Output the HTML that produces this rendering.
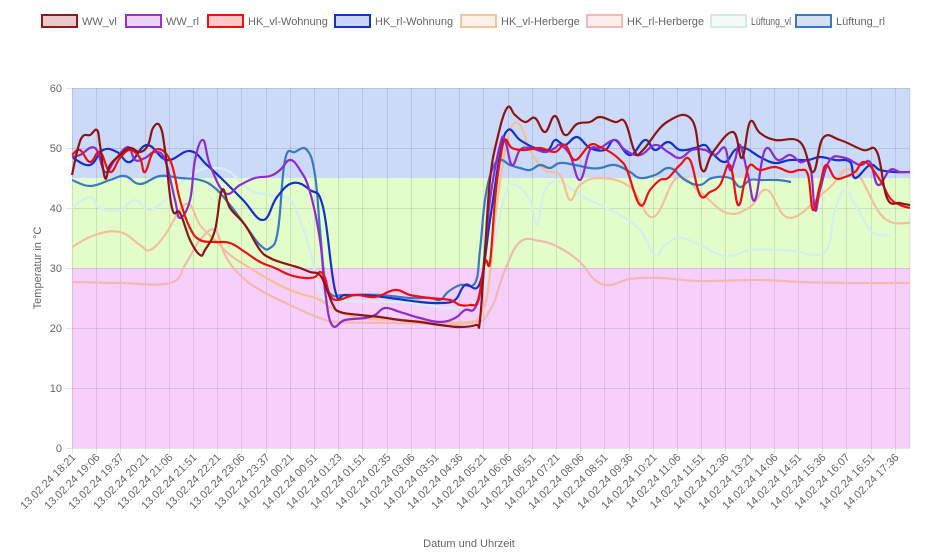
<!DOCTYPE html>
<html><head><meta charset="utf-8"><style>
body{margin:0;background:#fff;width:940px;height:558px;overflow:hidden;font-family:"Liberation Sans",Arial,sans-serif}
svg{position:absolute;left:0;top:0}
</style></head><body>
<svg id="s" width="940" height="558" xmlns="http://www.w3.org/2000/svg" font-family="Liberation Sans, Arial, sans-serif">
<rect x="72" y="88" width="838" height="90" fill="#cbdaf8"/>
<rect x="72" y="178" width="838" height="90" fill="#e2fdc9"/>
<rect x="72" y="268" width="838" height="180" fill="#f6d0fa"/>
<g id="grid" stroke="rgba(0,0,0,0.1)" stroke-width="1"></g>
<g id="lines" fill="none" stroke-width="2.2"></g>
<g id="yl" font-size="11" fill="#666" text-anchor="end"></g>
<g id="xl" font-size="11" fill="#666" text-anchor="end"></g>
<text x="0" y="0" font-size="11" fill="#666" text-anchor="middle" transform="translate(41,268) rotate(-90)">Temperatur in °C</text>
<text x="469" y="547" font-size="11" fill="#666" text-anchor="middle">Datum und Uhrzeit</text>
<g id="leg" font-size="11" fill="#666"></g>
</svg>
<script>
var NS="http://www.w3.org/2000/svg";
function el(p,t,a,txt){var e=document.createElementNS(NS,t);for(var k in a)e.setAttribute(k,a[k]);if(txt)e.textContent=txt;document.getElementById(p).appendChild(e);}
for(var v=0;v<=60;v+=10){var y=448-6*v;el("grid","line",{x1:66,x2:910,y1:y+.5,y2:y+.5});el("yl","text",{x:62,y:y+4},String(v));}
var labs=["13.02.24 18:21","13.02.24 19:06","13.02.24 19:37","13.02.24 20:21","13.02.24 21:06","13.02.24 21:51","13.02.24 22:21","13.02.24 23:06","13.02.24 23:37","14.02.24 00:21","14.02.24 00:51","14.02.24 01:23","14.02.24 01:51","14.02.24 02:35","14.02.24 03:06","14.02.24 03:51","14.02.24 04:36","14.02.24 05:21","14.02.24 06:06","14.02.24 06:51","14.02.24 07:21","14.02.24 08:06","14.02.24 08:51","14.02.24 09:36","14.02.24 10:21","14.02.24 11:06","14.02.24 11:51","14.02.24 12:36","14.02.24 13:21","14.02.24 14:06","14.02.24 14:51","14.02.24 15:36","14.02.24 16:07","14.02.24 16:51","14.02.24 17:36"];
for(var i=0;i<labs.length;i++){var x=Math.round(72+24.2*i)+.5;el("grid","line",{x1:x,x2:x,y1:88,y2:454});el("xl","text",{x:0,y:0,transform:"translate("+(x+4)+",458) rotate(-45)"},labs[i]);}
el("grid","line",{x1:910,x2:910,y1:88,y2:448});
function path(pts){var d="M"+pts[0][0]+","+pts[0][1];for(var i=0;i<pts.length-1;i++){var p0=pts[i-1]||pts[i],p1=pts[i],p2=pts[i+1],p3=pts[i+2]||p2;var t=0.2;d+=" C"+(p1[0]+(p2[0]-p0[0])*t).toFixed(1)+","+(p1[1]+(p2[1]-p0[1])*t).toFixed(1)+" "+(p2[0]-(p3[0]-p1[0])*t).toFixed(1)+","+(p2[1]-(p3[1]-p1[1])*t).toFixed(1)+" "+p2[0]+","+p2[1];}return d;}
function P(a){var r=[];for(var i=0;i<a.length;i+=2)r.push([a[i],a[i+1]]);return r;}
var S=[
["#d5eef0",P([72,208,90,197,100,208,120,210,135,200,150,210,170,195,185,180,200,170,215,168,230,172,250,190,270,195,290,200,300,220,310,250,320,290,335,300,400,302,470,305,490,260,505,195,515,185,530,200,537,225,545,190,560,182,580,195,600,205,620,215,640,230,655,255,665,245,680,238,700,245,720,255,735,255,750,250,780,250,800,252,815,255,828,247,835,210,845,190,855,205,870,230,880,235,890,235])],
["#f4b8b0",P([72,282,120,283,170,283,185,265,200,240,215,230,225,255,240,275,260,290,290,305,320,318,340,322,400,323,470,323,490,310,505,270,520,242,540,241,560,248,580,262,595,280,610,285,630,279,660,278,700,281,760,280,800,282,850,283,910,283])],
["#f5bf98",P([72,247,95,235,120,232,140,245,150,250,165,235,180,210,190,205,200,225,215,240,230,255,250,268,270,280,290,290,305,295,320,300,335,310,360,318,400,320,440,322,470,322,480,315,488,290,495,220,502,170,510,130,520,125,530,150,545,170,560,175,570,200,580,185,600,178,630,187,653,217,677,178,700,192,727,213,750,207,767,190,790,218,827,190,853,170,883,217,910,223])],
["#3a78c4",P([72,180,90,186,110,180,125,176,140,184,160,176,180,178,200,180,215,188,230,205,245,225,260,245,270,248,278,230,285,160,295,152,307,150,315,175,320,230,325,280,332,295,345,295,380,295,410,298,430,298,440,300,448,292,460,285,475,283,480,250,485,200,492,170,500,160,510,165,520,168,530,170,540,165,550,168,560,163,575,165,590,168,600,168,615,165,630,172,640,178,655,175,670,168,685,180,700,185,712,178,730,178,740,187,750,180,760,180,778,180,791,182])],
["#1530c8",P([73,158,90,165,103,150,117,152,130,162,147,145,167,160,190,151,207,165,223,180,243,200,263,220,277,197,293,183,310,190,323,207,335,290,345,295,365,295,390,298,420,302,440,303,455,300,465,285,480,283,490,220,500,155,508,130,520,140,535,148,548,150,555,140,565,145,577,137,590,148,605,150,615,140,630,155,645,140,655,150,668,142,680,150,695,148,705,145,712,153,725,162,735,150,745,148,760,157,775,163,790,160,808,160,820,157,835,160,850,162,855,178,870,165,880,170,895,172,910,172])],
["#8e2bd0",P([72,157,80,155,95,148,105,172,115,160,128,147,135,160,145,158,155,152,165,160,175,200,180,218,190,200,195,160,203,140,210,165,225,193,240,185,255,178,270,176,280,170,290,160,300,170,310,192,320,240,325,290,332,325,345,320,365,318,375,315,385,308,400,312,420,318,440,322,455,318,465,310,475,308,482,280,490,200,500,145,505,140,512,165,520,150,530,148,545,152,555,148,560,145,570,155,580,180,590,150,600,148,615,140,625,150,640,155,655,145,668,152,680,158,692,150,705,150,715,155,725,148,730,170,735,160,740,145,748,175,755,200,765,150,778,160,790,155,800,162,810,165,815,210,820,190,830,160,845,158,860,165,870,162,878,185,890,170,900,172,910,172])],
["#ee1010",P([72,155,80,150,90,162,100,152,110,172,120,158,130,150,140,158,145,172,155,150,170,160,180,200,190,228,200,240,215,242,230,243,245,252,260,262,275,268,290,275,305,278,315,277,320,272,325,278,330,295,338,300,355,295,375,297,395,290,410,295,430,298,450,300,460,305,470,305,478,300,485,262,490,262,495,200,500,160,505,140,512,148,525,150,540,148,555,152,565,145,575,160,590,145,600,147,610,152,620,160,627,170,640,205,650,190,660,180,668,178,680,165,690,160,700,195,710,192,720,185,730,165,738,205,745,180,750,165,760,170,775,167,790,172,800,170,808,175,813,210,820,185,826,165,835,178,845,177,855,172,865,162,880,180,890,198,900,205,910,208])],
["#8b1515",P([72,175,78,148,83,136,90,135,97,130,100,145,105,178,110,165,120,155,130,148,140,152,148,145,153,128,160,126,165,150,172,208,180,213,190,240,200,255,205,250,215,230,222,190,230,208,245,225,260,250,270,258,280,262,290,265,300,268,310,272,320,275,327,290,333,305,340,312,360,315,380,317,400,320,420,322,440,325,460,327,476,325,480,320,485,250,490,180,497,140,507,108,515,115,525,122,535,118,545,132,555,116,565,135,577,124,590,122,600,117,615,122,625,122,635,152,643,150,667,122,692,120,702,170,713,152,733,132,742,158,750,122,760,133,775,140,800,142,813,172,823,138,840,140,863,150,877,152,887,198,900,203,910,205])]
];
S.forEach(function(s){el("lines","path",{d:path(s[1]),stroke:s[0]});});
var L=[["WW_vl",41,"#8b1a1a","#e8c8c8",0],["WW_rl",125,"#9932cc","#ecd3f5",0],["HK_vl-Wohnung",207,"#ee1111","#fcc8c8",0],["HK_rl-Wohnung",334,"#1133cc","#cdd5f7",0],["HK_vl-Herberge",460,"#f3c79c","#fdf0e4",0],["HK_rl-Herberge",586,"#f4b8b8","#fdeeee",0],["Lüftung_vl",710,"#d5eae6","#f3faf8",40],["Lüftung_rl",795,"#3a78c4","#d3e1f3",0]];
L.forEach(function(l){el("leg","rect",{x:l[1]+1,y:15,width:35,height:12,fill:l[3],stroke:l[2],"stroke-width":2});var a={x:l[1]+41,y:25};if(l[4]){a.textLength=l[4];a.lengthAdjust="spacingAndGlyphs";}el("leg","text",a,l[0]);});
</script>
</body></html>
